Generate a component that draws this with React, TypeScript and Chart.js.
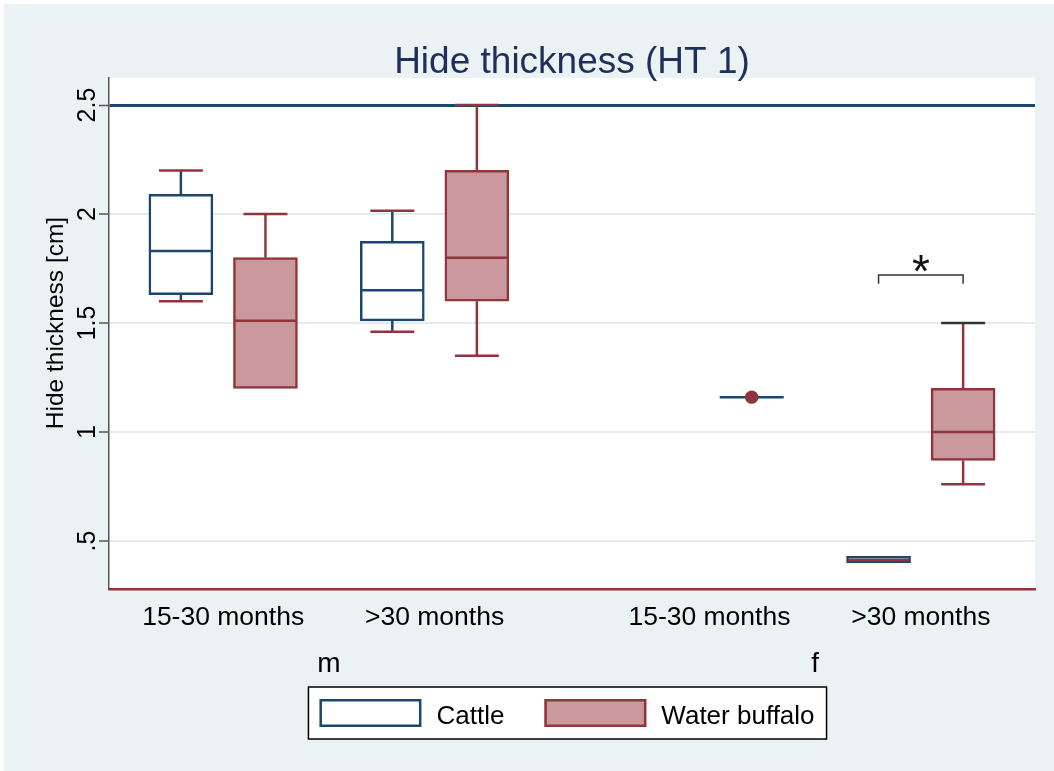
import React, { useEffect, useRef } from "react";
import { Chart, registerables } from "chart.js";

Chart.register(...registerables);

// ---------------- data ----------------
const sexGroups = ["m", "f"];
const ageLabels = ["15-30 months", ">30 months", "15-30 months", ">30 months"];
const categorySex = [0, 0, 1, 1];
const categoryPositions = [2.7, 7.7, 14.2, 19.2];
const seriesNames = ["Cattle", "Water buffalo"];

const cattleLow: (number | null)[] = [1.6, 1.46, null, 0.4];
const cattleQ1: (number | null)[] = [1.63, 1.51, null, 0.4];
const cattleMedian: (number | null)[] = [1.83, 1.65, null, 0.413];
const cattleQ3: (number | null)[] = [2.09, 1.875, null, 0.43];
const cattleHigh: (number | null)[] = [2.2, 2.015, null, 0.43];

const buffaloLow: (number | null)[] = [1.2, 1.35, 1.16, 0.76];
const buffaloQ1: (number | null)[] = [1.2, 1.6, 1.16, 0.87];
const buffaloMedian: (number | null)[] = [1.51, 1.8, 1.16, 1.0];
const buffaloQ3: (number | null)[] = [1.8, 2.2, 1.16, 1.2];
const buffaloHigh: (number | null)[] = [2.0, 2.5, 1.16, 1.5];

const yTickValues = [0.5, 1, 1.5, 2, 2.5];
const yTickLabels = [".5", "1", "1.5", "2", "2.5"];
const referenceLineValue = 2.5;
const yMin = 0.28;
const yMax = 2.624;
const xMin = 0;
const xMax = 21.9;

const sigCategory = 3;
const sigBracketValue = 1.72;
const sigDropValue = 1.68;
const sigStarValue = 1.786;
const sigLabel = "*";

const titleText = "Hide thickness (HT 1)";
const yTitleText = "Hide thickness [cm]";

// ---------------- styles ----------------
const NAVY = "#1a476f";
const MAROON = "#90353b";
const PINK = "#c9999d";
const BG = "#eaf2f3";
const GRID = "#e3ebee";
const TITLE_COLOR = "#1e2f5b";
const FONT = '"Liberation Sans", Arial, Helvetica, sans-serif';
const BOX_PX = 64;
const CAP_HALF = 0.52;
const SERIES_OFFSET = [-1, 1];
const seriesLineColor = [NAVY, MAROON];
const medianColors = [
  [NAVY, NAVY, NAVY, MAROON],
  [MAROON, MAROON, MAROON, MAROON],
];
const upperCapColors = [
  [MAROON, MAROON, MAROON, MAROON],
  [MAROON, MAROON, MAROON, "#333333"],
];
const lowerCapColors = [
  [MAROON, MAROON, MAROON, MAROON],
  [MAROON, MAROON, MAROON, MAROON],
];
const singleLineColor = NAVY;

const stats = [
  { low: cattleLow, q1: cattleQ1, med: cattleMedian, q3: cattleQ3, high: cattleHigh },
  { low: buffaloLow, q1: buffaloQ1, med: buffaloMedian, q3: buffaloQ3, high: buffaloHigh },
];

function line(ctx: CanvasRenderingContext2D, x1: number, y1: number, x2: number, y2: number, color: string, w: number) {
  ctx.beginPath();
  ctx.strokeStyle = color;
  ctx.lineWidth = w;
  ctx.moveTo(x1, y1);
  ctx.lineTo(x2, y2);
  ctx.stroke();
}

const stataPlugin = {
  id: "stataBox",
  beforeDraw(chart: any) {
    const { ctx, width, height, chartArea: a } = chart;
    ctx.save();
    ctx.fillStyle = "#ffffff";
    ctx.fillRect(0, 0, width, height);
    ctx.fillStyle = BG;
    ctx.fillRect(4, 4, width - 4, height - 4);
    ctx.fillStyle = "#ffffff";
    ctx.fillRect(a.left, a.top, a.right - a.left, a.bottom - a.top);
    ctx.restore();
  },
  beforeDatasetsDraw(chart: any) {
    const { ctx } = chart;
    const xs = chart.scales.x;
    const ys = chart.scales.y;
    ctx.save();
    ctx.lineCap = "butt";
    stats.forEach((s, si) => {
      categoryPositions.forEach((p, i) => {
        const q1 = s.q1[i], q3 = s.q3[i], lo = s.low[i], hi = s.high[i], md = s.med[i];
        if (q1 == null || q3 == null || lo == null || hi == null || md == null) return;
        const px = xs.getPixelForValue(p + SERIES_OFFSET[si]);
        const capL = xs.getPixelForValue(p + SERIES_OFFSET[si] - CAP_HALF);
        const capR = xs.getPixelForValue(p + SERIES_OFFSET[si] + CAP_HALF);
        if (q1 === q3) {
          const y = ys.getPixelForValue(md);
          line(ctx, px - BOX_PX / 2, y, px + BOX_PX / 2, y, singleLineColor, 2.5);
          return;
        }
        if (hi > q3) {
          line(ctx, px, ys.getPixelForValue(q3), px, ys.getPixelForValue(hi), seriesLineColor[si], 2.5);
          line(ctx, capL, ys.getPixelForValue(hi), capR, ys.getPixelForValue(hi), upperCapColors[si][i], 2.5);
        }
        if (lo < q1) {
          line(ctx, px, ys.getPixelForValue(q1), px, ys.getPixelForValue(lo), seriesLineColor[si], 2.5);
          line(ctx, capL, ys.getPixelForValue(lo), capR, ys.getPixelForValue(lo), lowerCapColors[si][i], 2.5);
        }
      });
    });
    ctx.restore();
  },
  afterDatasetsDraw(chart: any) {
    const { ctx } = chart;
    const xs = chart.scales.x;
    const ys = chart.scales.y;
    ctx.save();
    stats.forEach((s, si) => {
      categoryPositions.forEach((p, i) => {
        const q1 = s.q1[i], q3 = s.q3[i], md = s.med[i];
        if (q1 == null || q3 == null || md == null || q1 === q3) return;
        const px = xs.getPixelForValue(p + SERIES_OFFSET[si]);
        const y = ys.getPixelForValue(md);
        line(ctx, px - BOX_PX / 2 + 1.5, y, px + BOX_PX / 2 - 1.5, y, medianColors[si][i], 2.5);
      });
    });
    // significance bracket
    const p = categoryPositions[sigCategory];
    const bx1 = xs.getPixelForValue(p + SERIES_OFFSET[0]);
    const bx2 = xs.getPixelForValue(p + SERIES_OFFSET[1]);
    const by = ys.getPixelForValue(sigBracketValue);
    const bd = ys.getPixelForValue(sigDropValue);
    ctx.beginPath();
    ctx.strokeStyle = "#333333";
    ctx.lineWidth = 1.5;
    ctx.moveTo(bx1, bd);
    ctx.lineTo(bx1, by);
    ctx.lineTo(bx2, by);
    ctx.lineTo(bx2, bd);
    ctx.stroke();
    const starSize = 46;
    ctx.fillStyle = "#111111";
    ctx.font = `${starSize}px ${FONT}`;
    ctx.textAlign = "center";
    ctx.textBaseline = "alphabetic";
    ctx.fillText(sigLabel, (bx1 + bx2) / 2, ys.getPixelForValue(sigStarValue) + 0.575 * starSize);
    ctx.restore();
  },
  afterDraw(chart: any) {
    const { ctx, chartArea: a } = chart;
    const xs = chart.scales.x;
    const ys = chart.scales.y;
    ctx.save();
    // title
    ctx.fillStyle = TITLE_COLOR;
    ctx.font = `37px ${FONT}`;
    ctx.textAlign = "center";
    ctx.textBaseline = "alphabetic";
    ctx.fillText(titleText, (a.left + a.right) / 2, a.top - 5);

    // x category labels
    ctx.fillStyle = "#000000";
    ctx.font = `26.5px ${FONT}`;
    categoryPositions.forEach((p, i) => {
      ctx.fillText(ageLabels[i], xs.getPixelForValue(p), a.bottom + 36);
    });
    // group labels
    ctx.font = `28px ${FONT}`;
    sexGroups.forEach((g, gi) => {
      const ps = categoryPositions.filter((_, i) => categorySex[i] === gi);
      const c = ps.reduce((s, v) => s + v, 0) / ps.length;
      ctx.fillText(g, xs.getPixelForValue(c), a.bottom + 83);
    });

    // y tick labels (rotated)
    ctx.font = `25px ${FONT}`;
    yTickValues.forEach((v, i) => {
      ctx.save();
      ctx.translate(a.left - 14, ys.getPixelForValue(v));
      ctx.rotate(-Math.PI / 2);
      ctx.textAlign = "center";
      ctx.fillText(yTickLabels[i], 0, 0);
      ctx.restore();
    });
    // y title
    ctx.font = `24.5px ${FONT}`;
    ctx.save();
    const yc = (ys.getPixelForValue(yTickValues[0]) + ys.getPixelForValue(yTickValues[yTickValues.length - 1])) / 2;
    ctx.translate(a.left - 46.5, yc);
    ctx.rotate(-Math.PI / 2);
    ctx.textAlign = "center";
    ctx.fillText(yTitleText, 0, 0);
    ctx.restore();

    // legend
    ctx.font = `26px ${FONT}`;
    const w1 = ctx.measureText(seriesNames[0]).width;
    const w2 = ctx.measureText(seriesNames[1]).width;
    const padL = 11, sw = 102, swH = 28, gap = 15, between = 40, padR = 12;
    const total = padL + sw + gap + w1 + between + sw + gap + w2 + padR;
    const center = (a.left + a.right) / 2 - 4.5;
    const lx = center - total / 2;
    const ly = a.bottom + 98;
    const lh = 52;
    ctx.fillStyle = "#ffffff";
    ctx.fillRect(lx, ly, total, lh);
    ctx.strokeStyle = "#000000";
    ctx.lineWidth = 1.5;
    ctx.strokeRect(lx, ly, total, lh);
    const swTop = ly + 12;
    const fills = ["#ffffff", PINK];
    const strokes = [NAVY, MAROON];
    let cx = lx + padL;
    [w1, w2].forEach((w, k) => {
      ctx.fillStyle = fills[k];
      ctx.fillRect(cx, swTop, sw, swH);
      ctx.strokeStyle = strokes[k];
      ctx.lineWidth = 2.5;
      ctx.strokeRect(cx + 1.25, swTop + 1.25, sw - 2.5, swH - 2.5);
      ctx.fillStyle = "#000000";
      ctx.textAlign = "left";
      ctx.fillText(seriesNames[k], cx + sw + gap, ly + 36.5);
      cx += sw + gap + w + between;
    });
    ctx.restore();
  },
};

export default function App() {
  const ref = useRef<HTMLCanvasElement | null>(null);
  useEffect(() => {
    document.body.style.margin = "0";
    const canvas = ref.current;
    if (!canvas) return;

    const cattleBoxes = categoryPositions
      .map((p, i) => (cattleQ1[i] != null && cattleQ3[i] != null && cattleQ1[i] !== cattleQ3[i] ? { x: p + SERIES_OFFSET[0], y: [cattleQ1[i], cattleQ3[i]] } : null))
      .filter((d) => d !== null);
    const buffaloBoxes = categoryPositions
      .map((p, i) => (buffaloQ1[i] != null && buffaloQ3[i] != null && buffaloQ1[i] !== buffaloQ3[i] ? { x: p + SERIES_OFFSET[1], y: [buffaloQ1[i], buffaloQ3[i]] } : null))
      .filter((d) => d !== null);
    const singles = categoryPositions
      .map((p, i) => (buffaloQ1[i] != null && buffaloQ1[i] === buffaloQ3[i] ? { x: p + SERIES_OFFSET[1], y: buffaloMedian[i] } : null))
      .filter((d) => d !== null);

    const chart = new Chart(canvas, {
      type: "bar",
      data: {
        datasets: [
          {
            label: seriesNames[0],
            data: cattleBoxes as any,
            backgroundColor: "#ffffff",
            borderColor: NAVY,
            borderWidth: 2.5,
            borderSkipped: false,
            barThickness: BOX_PX,
            grouped: false,
          } as any,
          {
            label: seriesNames[1],
            data: buffaloBoxes as any,
            backgroundColor: PINK,
            borderColor: MAROON,
            borderWidth: 2.5,
            borderSkipped: false,
            barThickness: BOX_PX,
            grouped: false,
          } as any,
          {
            type: "scatter",
            label: seriesNames[1] + " (n=1)",
            data: singles as any,
            backgroundColor: MAROON,
            borderWidth: 0,
            pointRadius: 6.7,
          } as any,
        ],
      },
      options: {
        responsive: false,
        animation: false,
        layout: { padding: { left: 0, top: 78, right: 19, bottom: 0 } },
        plugins: {
          legend: { display: false },
          title: { display: false },
          tooltip: { enabled: false },
        },
        scales: {
          x: {
            type: "linear",
            min: xMin,
            max: xMax,
            offset: false,
            grid: { display: false, offset: false },
            ticks: { display: false },
            border: { display: true, color: MAROON, width: 2.5 },
            afterFit: (scale: any) => {
              scale.height = 182;
            },
          },
          y: {
            type: "linear",
            min: yMin,
            max: yMax,
            afterBuildTicks: (scale: any) => {
              scale.ticks = yTickValues.map((v) => ({ value: v }));
            },
            ticks: { display: false },
            grid: {
              display: true,
              drawTicks: true,
              tickLength: 10,
              tickColor: "#555555",
              tickWidth: 1.5,
              color: (c: any) => (c.tick && c.tick.value === referenceLineValue ? NAVY : GRID),
              lineWidth: (c: any) => (c.tick && c.tick.value === referenceLineValue ? 3 : 2),
            },
            border: { display: true, color: "#555555", width: 1.5 },
            afterFit: (scale: any) => {
              scale.width = 109;
            },
          },
        },
      },
      plugins: [stataPlugin],
    });
    return () => chart.destroy();
  }, []);
  return <canvas ref={ref} width={1054} height={771} style={{ display: "block" }} />;
}
